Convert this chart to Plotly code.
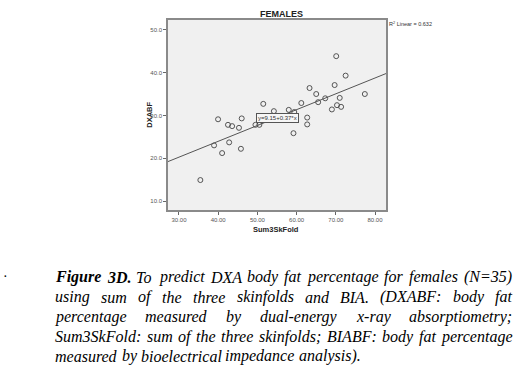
import plotly.graph_objects as go

# Data
sum3skfold = [35.45, 38.95, 39.97, 41.0, 42.5, 42.8, 43.55, 45.3, 45.8, 46.0,
              49.5, 50.5, 51.5, 54.2, 58.0, 59.4, 59.2, 61.2, 62.7, 62.7,
              65.5, 69.0, 70.3, 71.35, 70.1, 72.5, 69.7, 63.3, 65.0, 77.4,
              67.3, 71.0]
dxabf = [14.9, 23.0, 29.1, 21.2, 27.8, 23.7, 27.5, 27.1, 22.2, 29.3,
         27.8, 27.8, 32.7, 31.0, 31.3, 30.8, 25.85, 32.9, 29.5, 27.9,
         33.1, 31.4, 32.4, 32.0, 43.85, 39.3, 37.1, 36.4, 35.0, 35.0,
         34.0, 34.1]
intercept = 9.15
slope = 0.37
r2 = 0.632
x_range = [27.2, 82.8]
y_range = [7.9, 52.3]
x_ticks = [30, 40, 50, 60, 70, 80]
y_ticks = [10, 20, 30, 40, 50]

caption_lines = [
    "Figure 3D. To predict DXA body fat percentage for females (N=35)",
    "using sum of the three skinfolds and BIA. (DXABF: body fat",
    "percentage measured by dual-energy x-ray absorptiometry;",
    "Sum3SkFold: sum of the three skinfolds; BIABF: body fat percentage",
    "measured by bioelectrical impedance analysis).",
]
bold_words = {"Figure", "3D."}

W, H = 522, 374
L, R, T, B = 168, 136, 19.5, 164
PW, PH = W - L - R, H - T - B

# approximate Times italic glyph widths (per 1000 em) for justification
TW = {' ': 250, 'a': 500, 'b': 500, 'c': 444, 'd': 500, 'e': 444, 'f': 278, 'g': 500, 'h': 500,
      'i': 278, 'j': 278, 'k': 444, 'l': 278, 'm': 722, 'n': 500, 'o': 500, 'p': 500, 'q': 500,
      'r': 389, 's': 389, 't': 278, 'u': 500, 'v': 444, 'w': 667, 'x': 444, 'y': 444, 'z': 389,
      'A': 611, 'B': 611, 'C': 667, 'D': 722, 'E': 611, 'F': 611, 'G': 722, 'H': 722, 'I': 333,
      'J': 444, 'K': 667, 'L': 556, 'M': 833, 'N': 667, 'O': 722, 'P': 611, 'Q': 722, 'R': 611,
      'S': 500, 'T': 556, 'U': 722, 'V': 611, 'W': 833, 'X': 611, 'Y': 556, 'Z': 556,
      '.': 250, ',': 250, ':': 333, ';': 333, '(': 333, ')': 333, '-': 333, '=': 675}
TWB = dict(TW, F=667, u=556)


def word_width(w, size, bold=False):
    tab = TWB if bold else TW
    return sum(tab.get(c, 500) for c in w) * size / 1000.0


def px_x(v):
    return (v - L) / PW


def px_y(v):
    return (H - B - v) / PH


fig = go.Figure()
fig.add_trace(go.Scatter(
    x=sum3skfold, y=dxabf, mode="markers",
    marker=dict(symbol="circle-open", size=5, color="#444444", line=dict(width=0.9)),
    showlegend=False, hoverinfo="skip"))
fig.add_trace(go.Scatter(
    x=x_range, y=[intercept + slope * v for v in x_range], mode="lines",
    line=dict(color="#555555", width=1), showlegend=False, hoverinfo="skip"))

axis_common = dict(showgrid=False, zeroline=False, showline=True, linecolor="#8a8a8a",
                   linewidth=1.5, mirror=True, ticks="outside", ticklen=3,
                   tickcolor="#666666",
                   tickfont=dict(family="Liberation Sans", size=6, color="#555555"))
fig.update_xaxes(range=x_range, tickvals=x_ticks, ticktext=[f"{v:.2f}" for v in x_ticks], **axis_common)
fig.update_yaxes(range=y_range, tickvals=y_ticks, ticktext=[f"{v:.1f}" for v in y_ticks], **axis_common)

sans = "Liberation Sans"
serif = "Liberation Serif"
anns = []
anns.append(dict(text="<b>FEMALES</b>", x=px_x(281.5), y=px_y(13.5),
                 xanchor="center", font=dict(family=sans, size=9, color="#222222")))
anns.append(dict(text="<b>Sum3SkFold</b>", x=px_x(276), y=px_y(229.5),
                 xanchor="center", font=dict(family=sans, size=7.5, color="#222222")))
anns.append(dict(text="<b>DXABF</b>", x=px_x(149.5), y=px_y(115), textangle=-90,
                 xanchor="center", font=dict(family=sans, size=7.5, color="#222222")))
anns.append(dict(text=f"R<sup>2</sup> Linear = {r2}", x=px_x(387), y=px_y(24),
                 xanchor="left", font=dict(family=sans, size=5.5, color="#333333")))
anns.append(dict(text="·", x=px_x(1), y=px_y(277),
                 xanchor="left", font=dict(family=serif, size=14, color="#000000")))

cap_size = 16
left_px, right_px = 53.3, 510
for i, line in enumerate(caption_lines):
    words = line.split(" ")
    widths = [word_width(w, cap_size, w in bold_words) for w in words]
    last = i == len(caption_lines) - 1
    if last:
        gap = TW[' '] * cap_size / 1000.0
    else:
        gap = (right_px - left_px - sum(widths)) / (len(words) - 1)
    xpos = left_px
    ypix = 277.5 + 19.8 * i
    for w, wd in zip(words, widths):
        isb = w in bold_words
        anns.append(dict(text=f"<b>{w}</b>" if isb else w, x=px_x(xpos), y=px_y(ypix), xanchor="left",
                         font=dict(family=serif, size=cap_size, color="#000000", style="italic")))
        xpos += wd + gap

for a in anns:
    a.update(xref="paper", yref="paper", showarrow=False, yanchor="middle")

anns.append(dict(text=f"y={intercept}+{slope}*x", x=55.0, y=29.3, xref="x", yref="y",
                 showarrow=False, xanchor="center", yanchor="middle",
                 bgcolor="#F6F6F6", bordercolor="#555555", borderwidth=1, borderpad=1,
                 font=dict(family=sans, size=6, color="#333333")))

fig.update_layout(
    width=W, height=H,
    margin=dict(l=L, r=R, t=T, b=B, autoexpand=False),
    paper_bgcolor="white", plot_bgcolor="#F0F0F0",
    annotations=anns,
)

fig.write_html("out.html", config={"displayModeBar": False},
               post_script="document.body.style.margin='0px';")
